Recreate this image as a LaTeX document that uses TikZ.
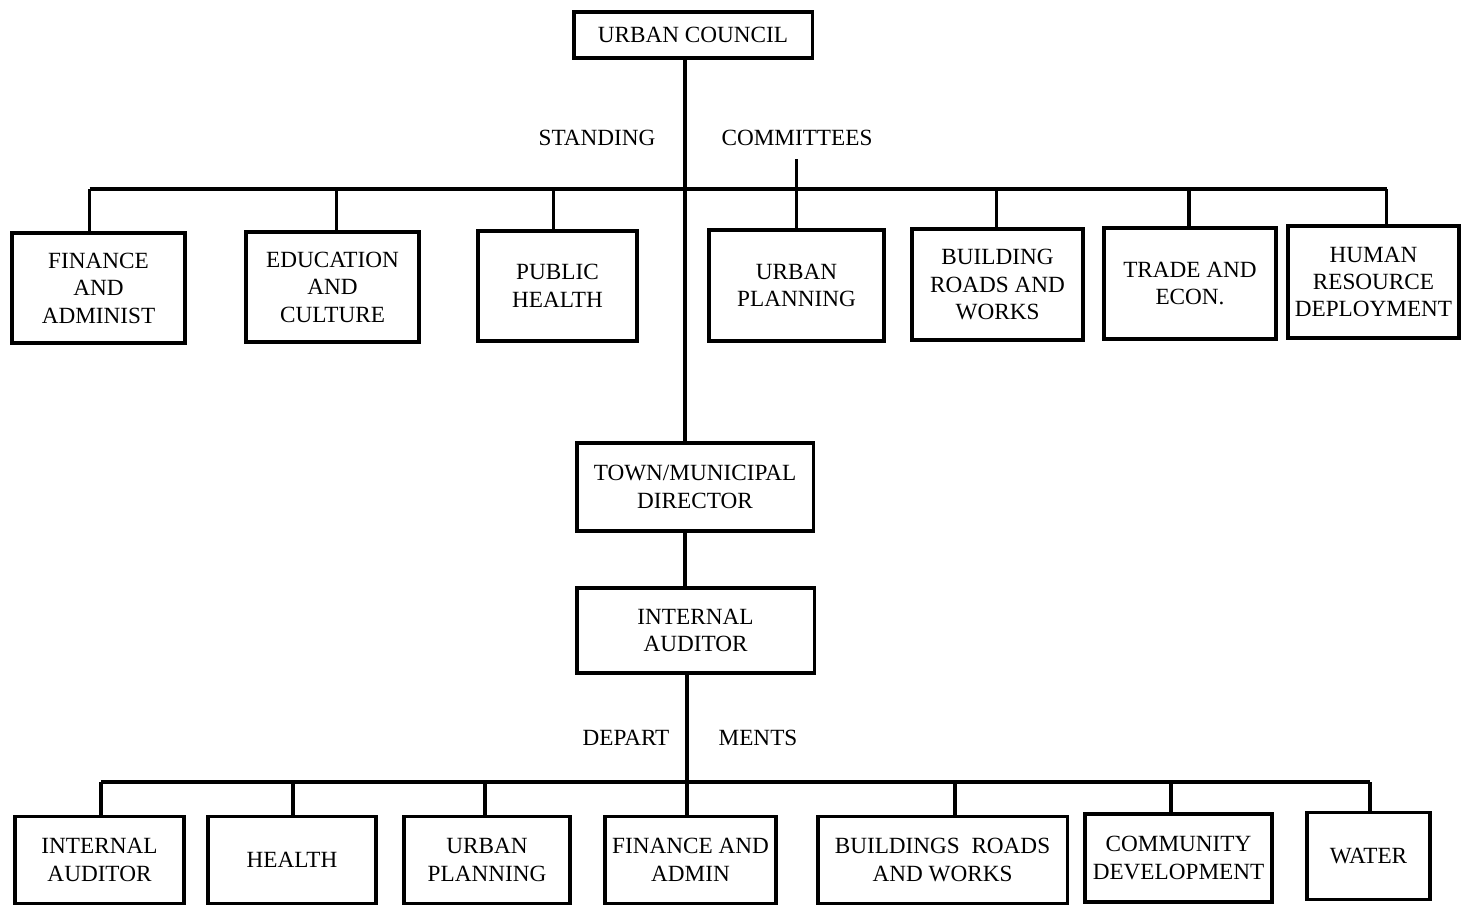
\documentclass[tikz,border=0pt]{standalone}
\usepackage{fontspec}
\setmainfont{Liberation Serif}
\usepackage{tikz}
\usetikzlibrary{calc}

\begin{document}
\begin{tikzpicture}[x=0.01cm,y=-0.01cm,line width=0.9pt]
	\tikzstyle{unit}=[draw,rectangle,align=center,inner sep=0pt,font=\fontsize{6.6}{7.8}\selectfont]
	\tikzstyle{tag}=[font=\fontsize{6.6}{7.8}\selectfont]
	\useasboundingbox (0,0) rectangle (1461,905);
		% council and committees
		\node[unit, minimum width=2.38cm, minimum height=0.46cm] (council) at (693,35) {URBAN COUNCIL};
		\coordinate (spine) at (685,0);
		\coordinate (busT) at (685,189);
		\node[tag] (stand) at (597,138) {STANDING};
		\node[tag] (cmt) at (797,138) {COMMITTEES};
		\node[unit, minimum width=1.73cm, minimum height=1.10cm] (fin) at (98.5,288) {FINANCE\\AND\\ADMINIST};
		\node[unit, minimum width=1.73cm, minimum height=1.10cm] (edu) at (332.5,287) {EDUCATION\\AND\\CULTURE};
		\node[unit, minimum width=1.59cm, minimum height=1.10cm] (ph) at (557.5,286) {PUBLIC\\HEALTH};
		\node[unit, minimum width=1.75cm, minimum height=1.11cm] (upl) at (796.5,285.5) {URBAN\\PLANNING};
		\node[unit, minimum width=1.71cm, minimum height=1.11cm] (brw) at (997.5,284.5) {BUILDING\\ROADS AND\\WORKS};
		\node[unit, minimum width=1.72cm, minimum height=1.11cm] (te) at (1190,283.5) {TRADE AND\\ECON.};
		\node[unit, minimum width=1.71cm, minimum height=1.12cm] (hr) at (1373.5,282) {HUMAN\\RESOURCE\\DEPLOYMENT};
			\foreach \n/\dx in {fin/-9, edu/4, ph/-4, upl/0, brw/-1, te/-1, hr/13}
				\path ($(\n.north)+(\dx,0)$) coordinate (\n-top);
			\draw (fin-top |- busT) -- (hr-top |- busT);
			\foreach \n in {fin, edu, ph, brw, te, hr}
				\draw (\n-top |- busT) -- (\n-top);
			\draw (cmt.south -| upl-top) -- (upl-top);
		% director and auditor
		\node[unit, minimum width=2.36cm, minimum height=0.88cm] (director) at (695,487) {TOWN/MUNICIPAL\\DIRECTOR};
		\node[unit, minimum width=2.37cm, minimum height=0.85cm] (auditor) at (695.5,630.5) {INTERNAL\\AUDITOR};
			\draw (council.south -| spine) -- (director.north -| spine);
			\draw (director.south -| spine) -- (auditor.north -| spine);
		% departments
		\coordinate (busB) at (687,782);
		\node[tag] (depart) at (626,738) {DEPART};
		\node[tag] (ments) at (758,738) {MENTS};
		\node[unit, minimum width=1.69cm, minimum height=0.87cm] (ia) at (99.5,860) {INTERNAL\\AUDITOR};
		\node[unit, minimum width=1.68cm, minimum height=0.87cm] (hlth) at (292,860) {HEALTH};
		\node[unit, minimum width=1.66cm, minimum height=0.87cm] (dup) at (487,860) {URBAN\\PLANNING};
		\node[unit, minimum width=1.71cm, minimum height=0.87cm] (dfa) at (690.5,860) {FINANCE AND\\ADMIN};
		\node[unit, minimum width=2.49cm, minimum height=0.87cm] (dbrw) at (942.5,860) {BUILDINGS\ \ ROADS\\AND WORKS};
		\node[unit, minimum width=1.87cm, minimum height=0.88cm] (cd) at (1178.5,858) {COMMUNITY\\DEVELOPMENT};
		\node[unit, minimum width=1.23cm, minimum height=0.87cm] (wat) at (1368.5,856) {WATER};
			\foreach \n/\dx in {ia/1.5, hlth/1, dup/-2, dfa/-3.5, dbrw/12.5, cd/-7.5, wat/1.5}
				\path ($(\n.north)+(\dx,0)$) coordinate (\n-top);
			\draw (ia-top |- busB) -- (wat-top |- busB);
			\foreach \n in {ia, hlth, dup, dbrw, cd, wat}
				\draw (\n-top |- busB) -- (\n-top);
			\draw (auditor.south -| busB) -- (dfa-top);
\end{tikzpicture}
\end{document}
